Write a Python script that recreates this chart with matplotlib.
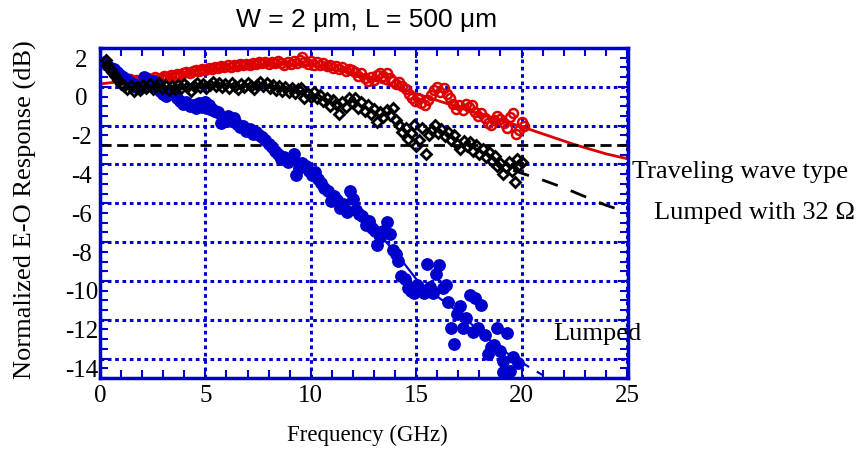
import numpy as np
import matplotlib
matplotlib.use("Agg")
import matplotlib.pyplot as plt
from matplotlib.ticker import MultipleLocator
import matplotlib.transforms as mtransforms

# --- data ---
# traveling wave type (red open circles)
tw_f = [0.30, 0.40, 0.50, 0.65, 0.80, 0.95, 1.10, 1.25, 1.40, 1.55, 1.70, 1.85, 2.00, 2.15, 2.30,
        2.45, 2.60, 2.75, 2.90, 3.05, 3.20, 3.35, 3.50, 3.65, 3.80, 3.95, 4.10, 4.25, 4.40, 4.55,
        4.70, 4.85, 5.00, 5.15, 5.30, 5.45, 5.60, 5.75, 5.90, 6.05, 6.20, 6.35, 6.50, 6.65, 6.80,
        6.95, 7.10, 7.25, 7.40, 7.55, 7.70, 7.85, 8.00, 8.15, 8.30, 8.45, 8.60, 8.75, 8.90, 9.05,
        9.20, 9.35, 9.50, 9.60, 9.70, 9.85, 10.00, 10.15, 10.30, 10.45, 10.60, 10.75, 10.90, 11.05,
        11.20, 11.35, 11.50, 11.65, 11.80, 11.95, 12.10, 12.25, 12.40, 12.55, 12.70, 12.85, 13.00,
        13.15, 13.30, 13.45, 13.60, 13.75, 13.90, 14.05, 14.20, 14.35, 14.50, 14.65, 14.80, 14.95,
        15.10, 15.25, 15.40, 15.55, 15.70, 15.85, 16.00, 16.15, 16.30, 16.45, 16.60, 16.75, 16.90,
        17.05, 17.20, 17.35, 17.50, 17.65, 17.80, 17.95, 18.10, 18.25, 18.40, 18.55, 18.70, 18.85,
        19.00, 19.15, 19.30, 19.45, 19.60, 19.75, 19.90, 20.00, 20.10]
tw_db = [1.25, 1.05, 0.85, 0.70, 0.55, 0.45, 0.40, 0.35, 0.38, 0.30, 0.35, 0.32, 0.40, 0.36, 0.45,
         0.40, 0.50, 0.42, 0.48, 0.55, 0.50, 0.62, 0.58, 0.68, 0.62, 0.72, 0.78, 0.70, 0.82, 0.86,
         0.80, 0.90, 0.86, 0.95, 0.92, 1.00, 0.96, 1.05, 1.00, 1.10, 1.04, 1.12, 1.08, 1.18, 1.12,
         1.20, 1.15, 1.25, 1.18, 1.30, 1.22, 1.28, 1.20, 1.30, 1.25, 1.32, 1.22, 1.15, 1.28, 1.18,
         1.35, 1.25, 1.40, 1.55, 1.30, 1.20, 1.35, 1.15, 1.28, 1.10, 1.22, 1.05, 1.15, 0.95,
         1.05, 0.90, 1.00, 0.80, 0.92, 0.85, 0.75, 0.55, 0.70, 0.45, 0.30, 0.50, 0.35,
         0.60, 0.72, 0.55, 0.70, 0.45, 0.30, 0.15, 0.25, 0.05, -0.10, -0.35, -0.60, -0.75,
         -0.55, -0.85, -0.95, -0.70, -0.40, -0.15, 0.00, -0.25, -0.05, -0.35, -0.60, -0.90, -1.15,
         -0.95, -1.20, -0.90, -1.05, -0.95, -1.30, -1.50, -1.35, -1.60, -1.85, -1.95, -1.70, -1.50,
         -1.65, -1.85, -2.10, -1.55, -1.35, -2.45, -2.20, -1.80, -2.00]
tw_fit_f = [0.0, 2.0, 5.0, 8.0, 10.0, 12.0, 14.0, 16.0, 18.0, 20.0, 21.0, 22.5, 24.0, 25.0]
tw_fit_db = [0.15, 0.40, 0.90, 1.20, 1.10, 0.70, 0.00, -0.70, -1.40, -2.05, -2.42, -2.97, -3.45, -3.70]

# lumped with 32 ohm (black open diamonds)
lr_f = [0.30, 0.35, 0.45, 0.55, 0.70, 0.85, 1.00, 1.15, 1.30, 1.45, 1.60, 1.75, 1.90, 2.05, 2.20,
        2.35, 2.50, 2.65, 2.80, 2.95, 3.10, 3.25, 3.40, 3.55, 3.70, 3.85, 4.00, 4.15, 4.30, 4.45,
        4.60, 4.75, 4.90, 5.05, 5.20, 5.35, 5.50, 5.65, 5.80, 5.95, 6.10, 6.25, 6.40, 6.55, 6.70,
        6.85, 7.00, 7.15, 7.30, 7.45, 7.60, 7.75, 7.90, 8.05, 8.20, 8.35, 8.50, 8.65, 8.80, 8.95,
        9.10, 9.25, 9.40, 9.55, 9.70, 9.85, 10.00, 10.15, 10.30, 10.45, 10.60, 10.75, 10.90, 11.05,
        11.20, 11.35, 11.50, 11.65, 11.80, 11.95, 12.10, 12.25, 12.40, 12.55, 12.70, 12.85, 13.00,
        13.15, 13.30, 13.45, 13.60, 13.75, 13.90, 14.05, 14.20, 14.35, 14.50, 14.60, 14.75, 14.90,
        15.00, 15.15, 15.30, 15.45, 15.60, 15.75, 15.90, 16.05, 16.20, 16.35, 16.50, 16.65, 16.80,
        16.95, 17.10, 17.25, 17.40, 17.55, 17.70, 17.85, 18.00, 18.15, 18.30, 18.45, 18.60, 18.75,
        18.85, 19.00, 19.10, 19.25, 19.40, 19.55, 19.70, 19.80, 19.90, 20.00]
lr_db = [1.40, 1.10, 0.90, 0.75, 0.55, 0.35, 0.15, 0.05, -0.10, 0.05, -0.20, 0.00, -0.15, 0.10, -0.05,
         0.15, -0.10, 0.05, 0.20, -0.05, 0.10, -0.15, 0.05, -0.10, 0.10, -0.05, 0.15, 0.00, -0.20, 0.05,
         0.20, 0.00, 0.15, -0.05, 0.10, 0.25, 0.05, 0.20, 0.00, 0.15, -0.05, 0.20, 0.05, -0.10, 0.15,
         0.00, 0.20, 0.05, -0.10, 0.10, 0.25, 0.05, 0.20, -0.05, 0.10, -0.15, 0.05, -0.20, 0.00, -0.25,
         -0.05, -0.30, -0.10, -0.05, -0.60, -0.35, -0.50, -0.25, -0.60, -0.40, -0.75, -0.55, -1.00, -0.70,
         -0.90, -1.40, -0.80, -1.05, -0.60, -0.80, -0.55, -1.10, -0.80, -1.25, -0.95, -1.40, -1.15,
         -1.80, -1.30, -1.55, -1.20, -1.45, -1.10, -1.70, -1.95, -2.35, -2.10, -2.70, -2.40, -1.95,
         -3.05, -2.75, -2.10, -3.45, -2.50, -2.20, -1.95, -2.40, -2.15, -2.55, -2.35, -2.75, -2.50,
         -2.95, -3.20, -2.80, -3.05, -2.85, -3.30, -3.00, -3.45, -3.20, -3.60, -3.35, -3.80, -3.55,
         -4.10, -3.90, -4.50, -4.15, -3.85, -4.35, -4.90, -3.70, -4.05, -3.85]
lr_fit_f = [19.6, 20.0, 21.0, 22.0, 23.0, 24.0, 25.0]
lr_fit_db = [-4.30, -4.45, -4.80, -5.20, -5.65, -6.10, -6.45]

# lumped (blue filled circles)
lp_f = [0.25, 0.35, 0.50, 0.65, 0.80, 0.95, 1.10, 1.25, 1.40, 1.55, 1.70, 1.85, 2.10, 2.30, 2.50,
        2.70, 2.85, 3.00, 3.15, 3.30, 3.50, 3.65, 3.80, 3.95, 4.10, 4.25, 4.40, 4.55, 4.70, 4.85,
        5.00, 5.15, 5.30, 5.45, 5.60, 5.75, 5.90, 6.05, 6.20, 6.35, 6.50, 6.65, 6.80, 6.95, 7.10,
        7.25, 7.40, 7.55, 7.70, 7.85, 8.00, 8.15, 8.30, 8.45, 8.60, 8.75, 8.90, 9.05, 9.20, 9.30,
        9.45, 9.60, 9.75, 9.90, 10.05, 10.20, 10.35, 10.50, 10.65, 10.80, 10.95, 11.10, 11.25, 11.40,
        11.55, 11.70, 11.85, 12.00, 12.15, 12.30, 12.45, 12.60, 12.75, 12.90, 13.05, 13.15, 13.30,
        13.45, 13.60, 13.75, 13.90, 14.05, 14.15, 14.30, 14.45, 14.60, 14.75, 14.90, 15.05, 15.20,
        15.35, 15.50, 15.65, 15.80, 15.95, 16.10, 16.25, 16.40, 16.50, 16.65, 16.80, 16.95, 17.10,
        17.20, 17.35, 17.55, 17.70, 17.80, 17.95, 18.10, 18.25, 18.40, 18.55, 18.70, 18.85, 19.00,
        19.10, 19.10, 19.30, 19.45, 19.60, 19.85]
lp_db = [1.30, 1.10, 0.95, 0.90, 0.75, 0.60, 0.50, 0.40, 0.25, 0.15, 0.00, -0.05, 0.50, 0.35, 0.30,
         0.05, -0.20, -0.35, -0.45, -0.25, -0.35, -0.55, -0.75, -0.90, -0.80, -1.00, -0.95, -1.10, -0.85, -1.05,
         -0.80, -0.95, -1.15, -1.25, -1.30, -1.85, -1.65, -1.50, -1.75, -1.60, -1.90, -2.05, -2.00, -2.30, -2.15,
         -2.45, -2.35, -2.50, -2.60, -2.75, -2.95, -3.10, -3.30, -3.45, -3.70, -3.60, -3.85, -3.70, -3.45, -4.55,
         -4.20, -3.90, -4.10, -4.35, -4.55, -4.40, -4.75, -4.95, -5.20, -5.35, -5.90, -5.60, -5.85, -6.25,
         -6.05, -6.45, -5.35, -5.80, -6.35, -6.55, -6.65, -7.10, -6.90, -7.25, -7.45, -8.15, -7.75,
         -7.45, -6.95, -7.60, -8.40, -8.60, -8.95, -9.75, -9.90, -10.35, -10.50, -10.60, -10.20, -10.45,
         -10.60, -9.15, -10.30, -10.60, -9.65, -9.20, -10.35, -10.20, -11.10, -12.40, -13.25, -11.70, -11.30,
         -12.40, -11.90, -10.70, -12.65, -10.90, -12.40, -11.25, -12.80, -13.75, -13.40, -13.30, -12.40, -13.60,
         -14.15, -14.70, -12.70, -14.65, -13.90, -14.25]
lp_fit_f = [0.2, 2.0, 4.0, 6.0, 8.0, 10.0, 12.0, 13.0, 14.0, 15.0, 16.0, 17.0, 18.0, 19.0, 20.0]
lp_fit_db = [1.0, 0.0, -0.9, -1.8, -3.0, -4.6, -6.3, -7.3, -8.5, -9.9, -10.8, -11.6, -12.6, -13.5, -14.2]
lp_ext_f = [20.0, 21.0]
lp_ext_db = [-14.2, -14.85]

half_power_db = -3.0

RED = "#DD0000"
BLUE = "#0000CC"
serif = "Liberation Serif"
plt.rcParams["axes.unicode_minus"] = False

fig = plt.figure(figsize=(8.6, 4.53), dpi=100)
ax = fig.add_axes([0.1163, 0.1656, 0.6139, 0.7284])

# fits under the markers
ax.plot(tw_fit_f, tw_fit_db, color=RED, lw=2, zorder=2)
ax.plot(lr_fit_f, lr_fit_db, color="black", lw=2, ls=(0, (6, 5)), zorder=2)
ax.plot(lp_fit_f, lp_fit_db, color=BLUE, lw=1.6, zorder=2)
ax.plot(lp_ext_f, lp_ext_db, color=BLUE, lw=1.6, ls=(0, (4, 4)), zorder=2)
ax.axhline(half_power_db, color="black", lw=2, ls=(0, (4, 2)), zorder=2)

ax.plot(tw_f, tw_db, "o", mfc="none", mec=RED, ms=6.5, mew=1.8, zorder=3)
ax.plot(lp_f, lp_db, "o", color=BLUE, ms=8.2, zorder=4)
ax.plot(lr_f, lr_db, "D", mfc="none", mec="black", ms=5.3, mew=2.0, zorder=5)

ax.set_xlim(0, 25.05)
ax.set_ylim(-15, 2)
ax.xaxis.set_major_locator(MultipleLocator(5))
ax.xaxis.set_minor_locator(MultipleLocator(1))
ax.yaxis.set_major_locator(MultipleLocator(2))
ax.yaxis.set_minor_locator(MultipleLocator(0.5))
ax.grid(True, which="major", color=BLUE, ls=(0, (1.2, 1.2)), lw=2.2)
ax.set_axisbelow(True)

for s in ax.spines.values():
    s.set_color(BLUE)
    s.set_linewidth(2.5)
ax.tick_params(which="both", direction="in", color=BLUE, top=True, right=True,
               labelsize=18, labelcolor="black")
ax.tick_params(which="major", length=7, width=1.5)
ax.tick_params(which="minor", length=6, width=1.5)
ax.tick_params(axis="y", pad=13.5)
ax.tick_params(axis="x", pad=5)
for lab in ax.get_xticklabels() + ax.get_yticklabels():
    lab.set_fontfamily(serif)
shift = mtransforms.ScaledTranslation(0, -10 / 100, fig.dpi_scale_trans)
for lab in ax.get_yticklabels():
    lab.set_horizontalalignment("center")
    lab.set_transform(lab.get_transform() + shift)

ax.set_xlabel("Frequency (GHz)", fontsize=16.5, family=serif)
ax.set_ylabel("Normalized E-O Response (dB)", fontsize=19, family=serif)
ax.xaxis.set_label_coords(0.506, -0.142)
ax.yaxis.set_label_coords(-0.12, 0.51)

fig.text(0.426, 0.955, "W = 2 \u03bcm, L = 500 \u03bcm", ha="center", va="center",
         fontsize=19, family="Liberation Sans")
fig.text(0.986, 0.62, "Traveling wave type", ha="right", va="center", fontsize=19, family=serif)
fig.text(0.994, 0.53, "Lumped with 32 \u03a9", ha="right", va="center", fontsize=19, family=serif)
ax.text(21.5, -12.75, "Lumped", ha="left", va="center", fontsize=19, family=serif, clip_on=False)

fig.savefig("out.png", dpi=100)
